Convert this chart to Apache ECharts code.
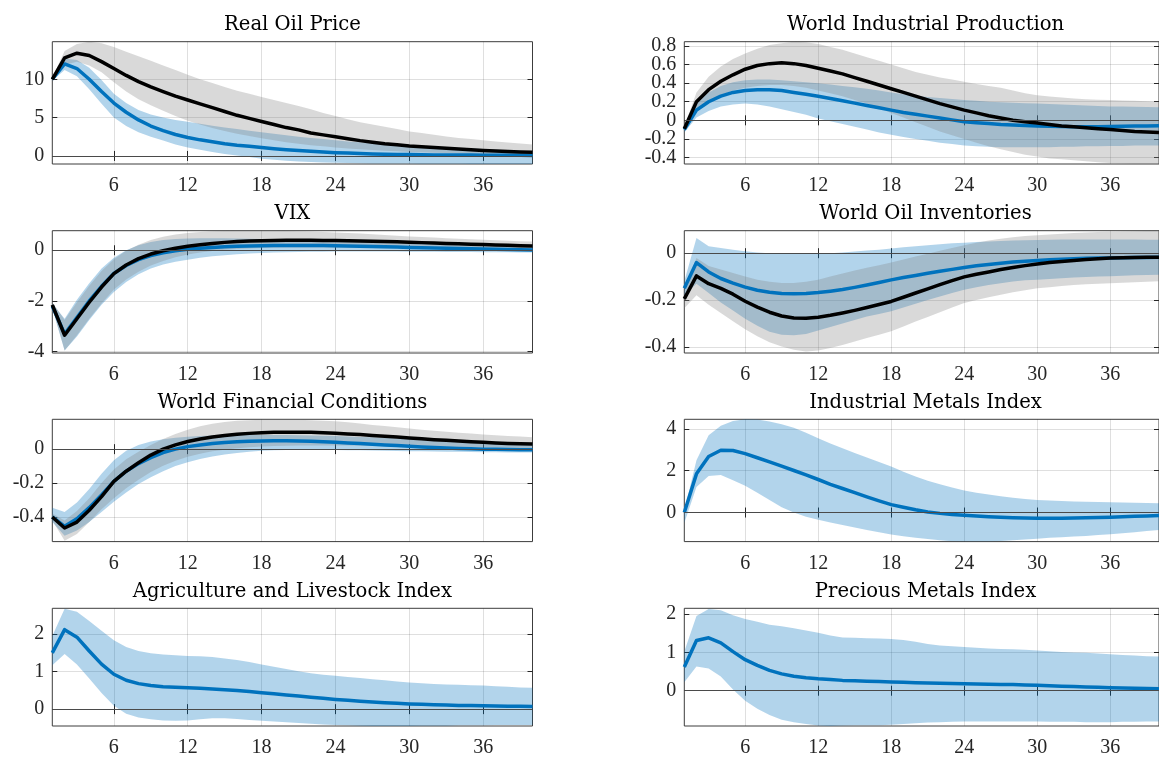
<!DOCTYPE html>
<html><head><meta charset="utf-8">
<script src="https://cdn.jsdelivr.net/npm/echarts@6/dist/echarts.min.js"></script>
<style>html,body{margin:0;padding:0;background:#fff}#c{width:1159px;height:758px}</style>
</head><body><div id="c"></div>
<script>
// ---------- DATA ----------
const horizons = [1,2,3,4,5,6,7,8,9,10,11,12,13,14,15,16,17,18,19,20,21,22,23,24,25,26,27,28,29,30,31,32,33,34,35,36,37,38,39,40];
const xTicks = [6,12,18,24,30,36];
const titles = ['Real Oil Price','World Industrial Production','VIX','World Oil Inventories','World Financial Conditions','Industrial Metals Index','Agriculture and Livestock Index','Precious Metals Index'];
const yTicks = [[0,5,10],[-0.4,-0.2,0,0.2,0.4,0.6,0.8],[-4,-2,0],[-0.4,-0.2,0],[-0.4,-0.2,0],[0,2,4],[0,1,2],[0,1,2]];
const yLimits = [[-1.05,14.9],[-0.47,0.846],[-4.05,0.77],[-0.426,0.096],[-0.545,0.176],[-1.39,4.46],[-0.45,2.69],[-0.92,2.15]];

// Real Oil Price
const oilBlue   = [10.0,12.0,11.4,10.0,8.4,6.9,5.7,4.7,3.9,3.3,2.8,2.4,2.1,1.85,1.6,1.4,1.25,1.1,0.95,0.82,0.7,0.6,0.5,0.43,0.37,0.32,0.27,0.23,0.2,0.18,0.16,0.14,0.13,0.12,0.11,0.1,0.09,0.08,0.08,0.07];
const oilBlueHi = [10.3,12.7,12.5,11.5,9.9,8.1,6.9,6.0,5.4,5.0,4.7,4.45,4.2,3.95,3.72,3.5,3.3,3.1,2.9,2.7,2.5,2.35,2.2,2.05,1.9,1.78,1.66,1.55,1.45,1.36,1.28,1.2,1.12,1.05,0.98,0.9,0.82,0.74,0.67,0.6];
const oilBlueLo = [9.8,11.2,10.4,8.7,6.8,5.0,3.9,3.1,2.5,2.0,1.5,1.1,0.8,0.5,0.25,0.05,-0.15,-0.35,-0.5,-0.62,-0.72,-0.8,-0.86,-0.9,-0.93,-0.95,-0.97,-0.98,-0.99,-1.0,-1.01,-1.02,-1.03,-1.03,-1.04,-1.04,-1.05,-1.05,-1.05,-1.05];
const oilBlack  = [10.0,12.8,13.4,13.1,12.3,11.4,10.5,9.7,9.0,8.4,7.8,7.3,6.8,6.3,5.8,5.3,4.9,4.5,4.1,3.7,3.4,3.0,2.75,2.5,2.25,2.0,1.8,1.6,1.45,1.3,1.2,1.1,1.0,0.9,0.8,0.72,0.65,0.58,0.52,0.47];
const oilGrayHi = [10.2,13.7,14.6,14.9,14.7,14.2,13.6,13.0,12.4,11.8,11.2,10.6,10.0,9.5,9.0,8.5,8.1,7.7,7.3,6.9,6.5,6.1,5.6,5.2,4.8,4.4,4.1,3.8,3.5,3.2,3.0,2.75,2.55,2.35,2.2,2.05,1.9,1.75,1.62,1.5];
const oilGrayLo = [9.8,11.9,12.3,11.8,10.9,9.6,8.4,7.4,6.6,5.9,5.2,4.6,4.1,3.65,3.25,2.9,2.6,2.3,2.05,1.8,1.6,1.4,1.25,1.1,0.97,0.86,0.76,0.67,0.6,0.53,0.47,0.42,0.37,0.33,0.29,0.26,0.23,0.2,0.18,0.16];

// World Industrial Production
const ipBlue   = [-0.1,0.11,0.2,0.26,0.3,0.32,0.33,0.33,0.32,0.30,0.28,0.26,0.235,0.21,0.185,0.16,0.135,0.11,0.085,0.065,0.045,0.025,0.005,-0.015,-0.025,-0.035,-0.045,-0.05,-0.055,-0.06,-0.063,-0.066,-0.068,-0.068,-0.068,-0.066,-0.064,-0.062,-0.06,-0.058];
const ipBlueHi = [-0.07,0.18,0.3,0.37,0.41,0.43,0.44,0.44,0.43,0.42,0.41,0.40,0.385,0.37,0.355,0.34,0.32,0.30,0.28,0.265,0.25,0.24,0.23,0.22,0.21,0.2,0.195,0.19,0.185,0.18,0.175,0.17,0.165,0.16,0.155,0.15,0.148,0.145,0.142,0.14];
const ipBlueLo = [-0.13,0.03,0.1,0.15,0.17,0.18,0.17,0.15,0.12,0.09,0.06,0.02,-0.01,-0.04,-0.07,-0.1,-0.13,-0.155,-0.18,-0.2,-0.22,-0.24,-0.255,-0.27,-0.28,-0.285,-0.29,-0.29,-0.29,-0.29,-0.29,-0.285,-0.285,-0.28,-0.28,-0.275,-0.275,-0.27,-0.27,-0.27];
const ipBlack  = [-0.09,0.20,0.33,0.42,0.49,0.55,0.59,0.61,0.62,0.61,0.59,0.56,0.53,0.50,0.46,0.42,0.38,0.34,0.30,0.26,0.22,0.18,0.145,0.11,0.08,0.05,0.025,0.0,-0.015,-0.03,-0.045,-0.06,-0.07,-0.08,-0.09,-0.1,-0.11,-0.12,-0.125,-0.13];
const ipGrayHi = [-0.07,0.30,0.47,0.58,0.66,0.72,0.77,0.81,0.83,0.845,0.84,0.82,0.79,0.76,0.72,0.68,0.64,0.6,0.56,0.52,0.49,0.46,0.44,0.415,0.39,0.37,0.35,0.32,0.29,0.27,0.255,0.245,0.235,0.228,0.222,0.218,0.214,0.21,0.205,0.2];
const ipGrayLo = [-0.11,0.1,0.2,0.27,0.32,0.35,0.37,0.38,0.38,0.37,0.35,0.32,0.29,0.26,0.22,0.18,0.13,0.08,0.03,-0.02,-0.07,-0.12,-0.16,-0.2,-0.24,-0.28,-0.31,-0.34,-0.37,-0.39,-0.41,-0.42,-0.43,-0.44,-0.45,-0.46,-0.465,-0.47,-0.47,-0.47];

// VIX
const vixBlue   = [-2.2,-3.3,-2.65,-2.0,-1.42,-0.92,-0.6,-0.37,-0.21,-0.1,-0.02,0.04,0.08,0.11,0.14,0.16,0.17,0.18,0.19,0.19,0.19,0.19,0.185,0.18,0.17,0.16,0.15,0.14,0.125,0.11,0.1,0.09,0.08,0.065,0.055,0.045,0.035,0.025,0.015,0.005];
const vixBlueHi = [-2.1,-2.7,-1.95,-1.3,-0.72,-0.3,0.0,0.2,0.32,0.4,0.44,0.46,0.47,0.47,0.47,0.46,0.45,0.44,0.43,0.42,0.41,0.4,0.39,0.38,0.37,0.35,0.34,0.33,0.31,0.3,0.29,0.27,0.26,0.25,0.24,0.23,0.22,0.21,0.2,0.19];
const vixBlueLo = [-2.3,-3.95,-3.4,-2.75,-2.15,-1.65,-1.25,-0.95,-0.72,-0.56,-0.45,-0.37,-0.3,-0.24,-0.2,-0.16,-0.13,-0.11,-0.09,-0.08,-0.07,-0.06,-0.055,-0.05,-0.05,-0.05,-0.05,-0.05,-0.05,-0.055,-0.06,-0.06,-0.065,-0.07,-0.07,-0.075,-0.08,-0.08,-0.085,-0.09];
const vixBlack  = [-2.15,-3.35,-2.7,-2.05,-1.45,-0.92,-0.58,-0.33,-0.15,-0.02,0.08,0.16,0.22,0.27,0.31,0.34,0.36,0.375,0.385,0.39,0.39,0.39,0.385,0.38,0.37,0.36,0.35,0.34,0.33,0.315,0.3,0.285,0.27,0.255,0.24,0.225,0.21,0.195,0.18,0.165];
const vixGrayHi = [-2.05,-2.75,-2.05,-1.4,-0.82,-0.36,-0.02,0.22,0.4,0.53,0.62,0.68,0.72,0.745,0.76,0.77,0.77,0.77,0.765,0.76,0.75,0.74,0.72,0.7,0.68,0.66,0.63,0.6,0.57,0.54,0.52,0.5,0.47,0.45,0.43,0.41,0.39,0.37,0.355,0.34];
const vixGrayLo = [-2.25,-3.95,-3.35,-2.7,-2.1,-1.55,-1.15,-0.85,-0.6,-0.42,-0.28,-0.17,-0.09,-0.03,0.02,0.05,0.07,0.09,0.1,0.11,0.11,0.11,0.11,0.1,0.1,0.09,0.09,0.08,0.08,0.07,0.07,0.06,0.06,0.05,0.05,0.04,0.04,0.03,0.03,0.02];

// World Oil Inventories
const woiBlue   = [-0.15,-0.04,-0.08,-0.108,-0.128,-0.145,-0.158,-0.167,-0.172,-0.173,-0.172,-0.168,-0.162,-0.155,-0.146,-0.136,-0.125,-0.114,-0.104,-0.095,-0.086,-0.077,-0.069,-0.061,-0.054,-0.048,-0.043,-0.038,-0.034,-0.031,-0.028,-0.026,-0.024,-0.022,-0.021,-0.02,-0.019,-0.018,-0.018,-0.017];
const woiBlueHi = [-0.12,0.065,0.03,0.022,0.015,0.008,0.003,0.0,-0.002,-0.003,-0.003,-0.002,0.0,0.003,0.007,0.011,0.015,0.02,0.025,0.03,0.034,0.038,0.042,0.045,0.048,0.05,0.052,0.054,0.055,0.056,0.057,0.058,0.058,0.058,0.058,0.058,0.058,0.058,0.057,0.057];
const woiBlueLo = [-0.18,-0.13,-0.17,-0.21,-0.245,-0.28,-0.31,-0.335,-0.348,-0.35,-0.345,-0.33,-0.315,-0.3,-0.285,-0.27,-0.26,-0.248,-0.232,-0.216,-0.2,-0.185,-0.17,-0.156,-0.145,-0.136,-0.128,-0.121,-0.116,-0.113,-0.11,-0.107,-0.104,-0.102,-0.1,-0.098,-0.096,-0.094,-0.093,-0.092];
const woiBlack  = [-0.195,-0.097,-0.13,-0.15,-0.175,-0.205,-0.23,-0.252,-0.268,-0.277,-0.278,-0.273,-0.265,-0.255,-0.244,-0.232,-0.219,-0.206,-0.188,-0.17,-0.152,-0.134,-0.117,-0.101,-0.09,-0.08,-0.07,-0.061,-0.053,-0.046,-0.04,-0.035,-0.031,-0.027,-0.024,-0.021,-0.019,-0.018,-0.017,-0.017];
const woiGrayHi = [-0.16,-0.02,-0.055,-0.07,-0.085,-0.1,-0.113,-0.122,-0.127,-0.127,-0.122,-0.113,-0.1,-0.087,-0.074,-0.062,-0.051,-0.04,-0.027,-0.014,-0.002,0.01,0.022,0.034,0.045,0.054,0.062,0.068,0.073,0.077,0.08,0.083,0.086,0.088,0.09,0.092,0.093,0.094,0.095,0.096];
const woiGrayLo = [-0.235,-0.18,-0.22,-0.255,-0.29,-0.325,-0.355,-0.38,-0.398,-0.412,-0.42,-0.415,-0.405,-0.392,-0.377,-0.362,-0.348,-0.333,-0.313,-0.292,-0.272,-0.252,-0.232,-0.213,-0.2,-0.188,-0.177,-0.167,-0.158,-0.15,-0.145,-0.14,-0.136,-0.133,-0.13,-0.128,-0.126,-0.124,-0.122,-0.12];

// World Financial Conditions
const wfcBlue   = [-0.4,-0.455,-0.41,-0.345,-0.27,-0.19,-0.13,-0.085,-0.05,-0.02,0.0,0.015,0.025,0.033,0.039,0.043,0.046,0.048,0.049,0.049,0.048,0.046,0.044,0.041,0.037,0.033,0.029,0.025,0.021,0.017,0.013,0.01,0.007,0.004,0.002,0.0,-0.001,-0.002,-0.003,-0.004];
const wfcBlueHi = [-0.345,-0.37,-0.315,-0.235,-0.145,-0.065,-0.01,0.025,0.045,0.058,0.067,0.073,0.077,0.08,0.082,0.083,0.084,0.084,0.084,0.083,0.082,0.081,0.079,0.077,0.075,0.072,0.07,0.067,0.064,0.061,0.058,0.055,0.052,0.05,0.047,0.045,0.043,0.041,0.039,0.037];
const wfcBlueLo = [-0.43,-0.51,-0.48,-0.43,-0.37,-0.31,-0.255,-0.205,-0.165,-0.13,-0.1,-0.077,-0.058,-0.043,-0.031,-0.022,-0.015,-0.01,-0.007,-0.005,-0.004,-0.004,-0.004,-0.005,-0.006,-0.007,-0.008,-0.01,-0.011,-0.012,-0.013,-0.014,-0.015,-0.016,-0.017,-0.018,-0.018,-0.019,-0.019,-0.02];
const wfcBlack  = [-0.4,-0.465,-0.43,-0.36,-0.28,-0.19,-0.13,-0.08,-0.035,0.0,0.025,0.045,0.06,0.072,0.081,0.088,0.093,0.097,0.099,0.1,0.1,0.099,0.097,0.094,0.09,0.086,0.081,0.076,0.071,0.066,0.061,0.056,0.052,0.048,0.044,0.04,0.037,0.034,0.032,0.03];
const wfcGrayHi = [-0.38,-0.42,-0.365,-0.29,-0.2,-0.12,-0.06,-0.015,0.025,0.06,0.09,0.115,0.135,0.15,0.16,0.167,0.171,0.173,0.174,0.174,0.173,0.171,0.168,0.164,0.158,0.151,0.143,0.136,0.129,0.122,0.115,0.109,0.103,0.097,0.092,0.087,0.082,0.078,0.074,0.07];
const wfcGrayLo = [-0.42,-0.54,-0.5,-0.43,-0.355,-0.29,-0.23,-0.18,-0.135,-0.098,-0.068,-0.045,-0.027,-0.013,-0.003,0.005,0.011,0.015,0.018,0.02,0.021,0.022,0.022,0.022,0.021,0.02,0.019,0.018,0.017,0.016,0.015,0.014,0.013,0.012,0.011,0.01,0.009,0.008,0.007,0.006];

// Industrial Metals Index
const imiBlue   = [0.0,1.85,2.68,2.98,2.97,2.82,2.62,2.42,2.22,2.01,1.8,1.58,1.35,1.15,0.95,0.75,0.56,0.38,0.25,0.13,0.03,-0.04,-0.09,-0.13,-0.17,-0.2,-0.23,-0.25,-0.26,-0.27,-0.27,-0.27,-0.26,-0.25,-0.24,-0.22,-0.2,-0.18,-0.16,-0.14];
const imiBlueHi = [0.1,2.5,3.7,4.15,4.38,4.46,4.45,4.36,4.22,4.05,3.82,3.55,3.3,3.07,2.85,2.63,2.42,2.2,1.95,1.72,1.52,1.35,1.2,1.06,0.95,0.86,0.78,0.71,0.65,0.6,0.57,0.55,0.53,0.52,0.5,0.49,0.48,0.47,0.46,0.45];
const imiBlueLo = [-0.5,1.22,1.75,1.8,1.55,1.28,0.95,0.6,0.25,0.0,-0.2,-0.35,-0.48,-0.6,-0.72,-0.83,-0.94,-1.05,-1.13,-1.2,-1.27,-1.33,-1.37,-1.39,-1.39,-1.38,-1.36,-1.33,-1.29,-1.25,-1.21,-1.18,-1.15,-1.12,-1.08,-1.04,-0.99,-0.94,-0.88,-0.83];

// Agriculture and Livestock Index
const agriBlue   = [1.5,2.12,1.92,1.55,1.2,0.93,0.77,0.68,0.63,0.6,0.585,0.57,0.555,0.54,0.52,0.495,0.47,0.44,0.41,0.38,0.35,0.32,0.29,0.26,0.235,0.21,0.19,0.17,0.155,0.14,0.13,0.12,0.11,0.1,0.095,0.09,0.085,0.08,0.075,0.07];
const agriBlueHi = [1.95,2.68,2.6,2.35,2.09,1.84,1.66,1.55,1.49,1.46,1.44,1.42,1.41,1.39,1.35,1.31,1.26,1.19,1.13,1.07,1.01,0.96,0.92,0.89,0.86,0.83,0.8,0.77,0.74,0.71,0.69,0.67,0.66,0.65,0.64,0.63,0.61,0.6,0.58,0.57];
const agriBlueLo = [1.17,1.47,1.19,0.82,0.43,0.09,-0.12,-0.22,-0.27,-0.3,-0.31,-0.3,-0.27,-0.24,-0.24,-0.26,-0.29,-0.31,-0.33,-0.35,-0.37,-0.39,-0.41,-0.42,-0.43,-0.44,-0.45,-0.45,-0.45,-0.45,-0.44,-0.44,-0.44,-0.43,-0.43,-0.43,-0.42,-0.42,-0.42,-0.42];

// Precious Metals Index
const pmiBlue   = [0.62,1.31,1.38,1.25,1.02,0.81,0.66,0.53,0.44,0.38,0.34,0.31,0.29,0.27,0.26,0.25,0.24,0.23,0.22,0.21,0.2,0.195,0.19,0.18,0.175,0.17,0.165,0.16,0.15,0.14,0.13,0.12,0.11,0.1,0.09,0.08,0.07,0.065,0.06,0.05];
const pmiBlueHi = [1.02,1.95,2.13,2.1,1.97,1.87,1.8,1.72,1.68,1.63,1.57,1.51,1.44,1.39,1.38,1.37,1.36,1.35,1.32,1.28,1.22,1.18,1.16,1.14,1.12,1.1,1.09,1.08,1.07,1.05,1.03,1.01,1.0,0.99,0.97,0.95,0.93,0.92,0.9,0.89];
const pmiBlueLo = [0.22,0.63,0.58,0.37,0.03,-0.26,-0.47,-0.63,-0.76,-0.82,-0.87,-0.91,-0.92,-0.91,-0.9,-0.9,-0.9,-0.89,-0.87,-0.85,-0.83,-0.82,-0.81,-0.8,-0.8,-0.8,-0.8,-0.8,-0.8,-0.8,-0.81,-0.81,-0.81,-0.82,-0.82,-0.82,-0.81,-0.81,-0.8,-0.8];

// ---------- CHART ----------
const panels = [
  {blue: oilBlue, blueLo: oilBlueLo, blueHi: oilBlueHi, black: oilBlack, grayLo: oilGrayLo, grayHi: oilGrayHi},
  {blue: ipBlue,  blueLo: ipBlueLo,  blueHi: ipBlueHi,  black: ipBlack,  grayLo: ipGrayLo,  grayHi: ipGrayHi},
  {blue: vixBlue, blueLo: vixBlueLo, blueHi: vixBlueHi, black: vixBlack, grayLo: vixGrayLo, grayHi: vixGrayHi},
  {blue: woiBlue, blueLo: woiBlueLo, blueHi: woiBlueHi, black: woiBlack, grayLo: woiGrayLo, grayHi: woiGrayHi},
  {blue: wfcBlue, blueLo: wfcBlueLo, blueHi: wfcBlueHi, black: wfcBlack, grayLo: wfcGrayLo, grayHi: wfcGrayHi},
  {blue: imiBlue, blueLo: imiBlueLo, blueHi: imiBlueHi},
  {blue: agriBlue, blueLo: agriBlueLo, blueHi: agriBlueHi},
  {blue: pmiBlue, blueLo: pmiBlueLo, blueHi: pmiBlueHi}
];

const colLeft = [52.3, 684.3];
const colWidth = [480.2, 482.5];
const rowTop = [41.7, 230.7, 419.3, 608.3];
const plotH = 122.3;
const AX = '#262626';
const labelFont = {fontFamily: 'Liberation Serif', fontSize: 20, color: AX};
const BLUE = '#0072BD';
const GRIDC = 'rgba(38,38,38,0.15)';

const grid = [], xAxis = [], yAxis = [], series = [], graphic = [];
panels.forEach((p, i) => {
  const col = i % 2, row = Math.floor(i / 2);
  grid.push({left: colLeft[col], top: rowTop[row], width: colWidth[col], height: plotH,
    show: true, borderColor: '#3c3c3c', borderWidth: 1, backgroundColor: 'transparent'});
  const tick = (vals) => ({show: true, inside: true, length: 5, interval: 0, customValues: vals, lineStyle: {color: AX}});
  const lab = (vals, margin) => Object.assign({customValues: vals, margin: margin, interval: 0,
    hideOverlap: false, showMinLabel: true, showMaxLabel: true}, labelFont);
  const xBase = {type: 'value', gridIndex: i, min: 1, max: 40, axisLine: {show: false}};
  xAxis.push(Object.assign({}, xBase, {position: 'bottom',
    axisTick: tick(xTicks), axisLabel: lab(xTicks, 12),
    splitLine: {show: true, interval: 0, lineStyle: {color: GRIDC, width: 1}}}));
  xAxis.push(Object.assign({}, xBase, {position: 'top',
    axisTick: tick(xTicks), axisLabel: {show: false}, splitLine: {show: false}}));

  // y labels split over two overlaid left axes so that close labels are never dropped
  const yt = yTicks[i];
  const evenLabels = yt.filter((v, k) => k % 2 === 0);
  const oddLabels = yt.filter((v, k) => k % 2 === 1);
  const yBase = {type: 'value', gridIndex: i, min: yLimits[i][0], max: yLimits[i][1], axisLine: {show: false}};
  yAxis.push(Object.assign({}, yBase, {position: 'left',
    axisTick: tick(yt), axisLabel: lab(evenLabels, 8),
    splitLine: {show: true, interval: 0, lineStyle: {color: GRIDC, width: 1}}}));
  yAxis.push(Object.assign({}, yBase, {position: 'left', offset: 0,
    axisTick: {show: false}, splitLine: {show: false},
    axisLabel: oddLabels.length ? lab(oddLabels, 8) : {show: false}}));
  yAxis.push(Object.assign({}, yBase, {position: 'right',
    axisTick: tick(yt), axisLabel: {show: false}, splitLine: {show: false}}));

  const xi = 2 * i, yi = 3 * i;
  const band = (lo, hi, fill) => ({
    type: 'custom', xAxisIndex: xi, yAxisIndex: yi, clip: true, silent: true,
    data: horizons.map((h, k) => [h, lo[k], hi[k]]),
    encode: {x: 0, y: [1, 2]},
    renderItem: (params, api) => {
      if (params.dataIndex !== 0) return null;
      const pts = [];
      for (let k = 0; k < horizons.length; k++) pts.push(api.coord([horizons[k], hi[k]]));
      for (let k = horizons.length - 1; k >= 0; k--) pts.push(api.coord([horizons[k], lo[k]]));
      return {type: 'polygon', shape: {points: pts}, style: {fill: fill, stroke: null}};
    }
  });
  const line = (vals, color) => ({
    type: 'line', xAxisIndex: xi, yAxisIndex: yi, showSymbol: false, silent: true,
    data: horizons.map((h, k) => [h, vals[k]]),
    lineStyle: {color: color, width: 3.5, join: 'round'}, itemStyle: {color: color}
  });
  const zero = {silent: true, symbol: 'none', label: {show: false}, animation: false,
    lineStyle: {color: '#4a4a4a', width: 1, type: 'solid'}, data: [{yAxis: 0}]};
  series.push(band(p.blueLo, p.blueHi, 'rgba(0,114,189,0.3)'));
  const bl = line(p.blue, BLUE);
  series.push(bl);
  if (p.black) {
    series.push(band(p.grayLo, p.grayHi, 'rgba(128,128,128,0.3)'));
    const k = line(p.black, '#000000');
    k.markLine = zero;
    series.push(k);
  } else {
    bl.markLine = zero;
  }
  graphic.push({type: 'text', x: colLeft[col] + colWidth[col] / 2, y: rowTop[row] - 16.5,
    style: {text: titles[i], fontFamily: 'DejaVu Serif', fontSize: 19.6, fill: '#000',
      align: 'center', verticalAlign: 'middle'}});
});

const chart = echarts.init(document.getElementById('c'), null, {renderer: 'canvas'});
chart.setOption({animation: false, backgroundColor: '#ffffff', grid, xAxis, yAxis, series, graphic});
</script>
</body></html>
